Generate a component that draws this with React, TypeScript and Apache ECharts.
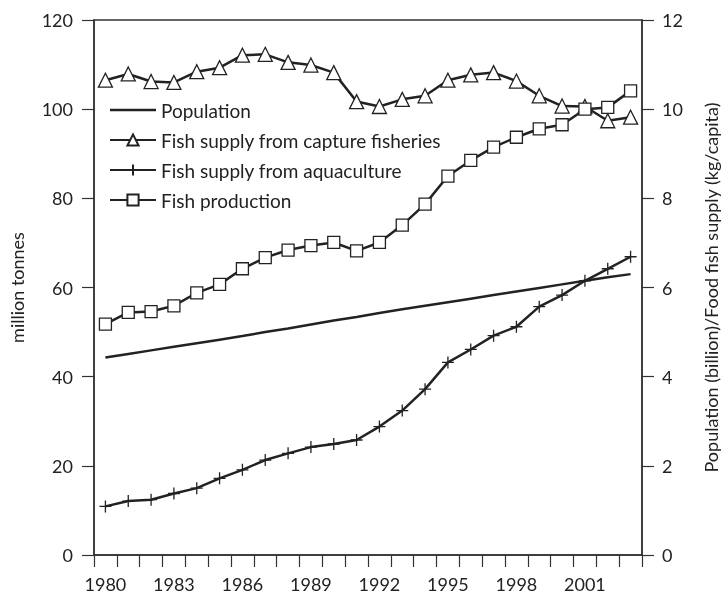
import React, { useEffect, useRef } from "react";
import * as echarts from "echarts";

const years = [
  "1980", "1981", "1982", "1983", "1984", "1985", "1986", "1987", "1988", "1989",
  "1990", "1991", "1992", "1993", "1994", "1995", "1996", "1997", "1998", "1999",
  "2000", "2001", "2002", "2003",
];
const population = [4.43, 4.51, 4.59, 4.67, 4.75, 4.83, 4.91, 5.0, 5.08, 5.17, 5.26, 5.34, 5.43, 5.51, 5.59, 5.67, 5.75, 5.83, 5.91, 5.99, 6.07, 6.15, 6.23, 6.3];
const captureSupply = [10.65, 10.79, 10.62, 10.6, 10.84, 10.93, 11.21, 11.23, 11.05, 10.99, 10.82, 10.17, 10.06, 10.22, 10.3, 10.65, 10.77, 10.82, 10.63, 10.3, 10.07, 10.06, 9.74, 9.82];
const aquacultureSupply = [1.09, 1.21, 1.24, 1.38, 1.5, 1.72, 1.91, 2.13, 2.28, 2.42, 2.49, 2.58, 2.88, 3.24, 3.72, 4.32, 4.61, 4.92, 5.12, 5.57, 5.83, 6.15, 6.42, 6.69];
const fishProduction = [51.8, 54.4, 54.6, 55.9, 58.8, 60.7, 64.2, 66.7, 68.4, 69.4, 70.1, 68.2, 70.1, 74.0, 78.7, 85.0, 88.5, 91.5, 93.7, 95.6, 96.5, 100.0, 100.4, 104.1];

const FONT = "Lato";
const INK = "#222";
const AXIS = "#333";
const PLUS = "path://M5 0 L5 10 M0 5 L10 5";
const LINE_ICON = "path://M0 0 L46 0 L46 0.01 Z M0 5.75 L46 5.75 L46 8.25 L0 8.25 Z M0 14 L46 14 L46 13.99 Z";

export default function App() {
  const ref = useRef<HTMLDivElement>(null);
  useEffect(() => {
    if (!ref.current) return;
    const chart = echarts.init(ref.current, undefined, { renderer: "svg" });
    const lineStyle = { color: INK, width: 2.5 };
    chart.setOption({
      animation: false,
      textStyle: { fontFamily: FONT, color: INK },
      grid: {
        left: 90, right: 75, top: 20, bottom: 43,
        show: true, borderColor: AXIS, borderWidth: 1.5, backgroundColor: "transparent",
      },
      legend: {
        orient: "vertical",
        left: 104,
        top: 94,
        itemWidth: 46,
        itemHeight: 14,
        itemGap: 8,
        textStyle: { fontFamily: FONT, fontSize: 19, color: INK, lineHeight: 22 },
        data: [
          { name: "Population", icon: LINE_ICON },
          "Fish supply from capture fisheries",
          "Fish supply from aquaculture",
          "Fish production",
        ],
      },
      xAxis: {
        type: "category",
        data: years,
        boundaryGap: true,
        axisLine: { lineStyle: { color: AXIS, width: 1.5 } },
        axisTick: { show: true, interval: 0, length: 12, lineStyle: { color: AXIS, width: 1.2 } },
        axisLabel: { interval: 2, margin: 20, fontSize: 18, color: INK, fontFamily: FONT },
        splitLine: { show: false },
      },
      yAxis: [
        {
          type: "value",
          min: 0, max: 120, interval: 20,
          name: "million tonnes",
          nameLocation: "middle",
          nameGap: 68,
          nameRotate: 90,
          nameTextStyle: { fontSize: 18, color: INK, fontFamily: FONT },
          axisLine: { show: true, lineStyle: { color: AXIS, width: 1.5 } },
          axisTick: { show: true, length: 12, lineStyle: { color: AXIS, width: 1.2 } },
          axisLabel: { margin: 21, fontSize: 18, color: INK, fontFamily: FONT },
          splitLine: { show: false },
        },
        {
          type: "value",
          min: 0, max: 12, interval: 2,
          position: "right",
          name: "Population (billion)/Food fish supply (kg/capita)",
          nameLocation: "middle",
          nameGap: 60,
          nameRotate: 90,
          nameTextStyle: { fontSize: 18, color: INK, fontFamily: FONT },
          axisLine: { show: true, lineStyle: { color: AXIS, width: 1.5 } },
          axisTick: { show: true, length: 12, lineStyle: { color: AXIS, width: 1.2 } },
          axisLabel: { margin: 20, fontSize: 18, color: INK, fontFamily: FONT },
          splitLine: { show: false },
        },
      ],
      series: [
        {
          name: "Population",
          type: "line",
          yAxisIndex: 1,
          data: population,
          symbol: "none",
          lineStyle,
          itemStyle: { color: INK },
        },
        {
          name: "Fish supply from capture fisheries",
          type: "line",
          yAxisIndex: 1,
          data: captureSupply,
          symbol: "triangle",
          symbolSize: 14,
          showAllSymbol: true,
          lineStyle,
          itemStyle: { color: "#fff", borderColor: INK, borderWidth: 1.3 },
          z: 3,
        },
        {
          name: "Fish supply from aquaculture",
          type: "line",
          yAxisIndex: 1,
          data: aquacultureSupply,
          symbol: PLUS,
          symbolSize: 12,
          showAllSymbol: true,
          lineStyle,
          itemStyle: { color: "none", borderColor: INK, borderWidth: 1.3 },
          z: 4,
        },
        {
          name: "Fish production",
          type: "line",
          yAxisIndex: 0,
          data: fishProduction,
          symbol: "rect",
          symbolSize: 12,
          showAllSymbol: true,
          lineStyle,
          itemStyle: { color: "#fff", borderColor: INK, borderWidth: 1.3 },
          z: 5,
        },
      ],
    });
    return () => chart.dispose();
  }, []);
  return (
    <div
      ref={ref}
      style={{ position: "fixed", left: 0, top: 0, width: 728, height: 598 }}
    />
  );
}
